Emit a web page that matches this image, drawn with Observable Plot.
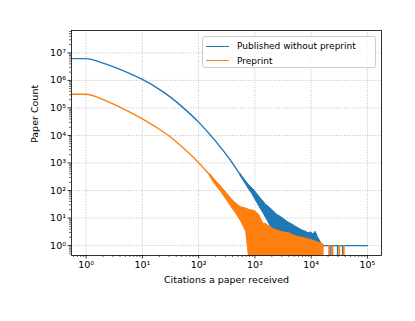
<!DOCTYPE html>
<html>
<head>
<meta charset="utf-8">
<script src="https://cdn.jsdelivr.net/npm/d3@7"></script>
<script src="https://cdn.jsdelivr.net/npm/@observablehq/plot@0.6"></script>
<style>
  body { margin: 0; background: #fff; }
  #wrap { position: relative; width: 415px; height: 321px; font-family: "DejaVu Sans", sans-serif; }
  #legend { position: absolute; left: 202px; top: 36px; width: 174px; height: 32px;
    border: 1px solid #cccccc; border-radius: 3px; background: rgba(255,255,255,0.8);
    font-size: 9px; color: #000; box-sizing: border-box; padding-top: 2px; }
  .row { display: flex; align-items: center; height: 14.5px; margin-left: 3px; }
  .swatch { width: 23px; height: 0; border-top: 1.4px solid; margin-right: 8px; }
</style>
</head>
<body>
<div id="wrap"><div id="legend"></div></div>
<script>
// ---- data ----
const seriesNames = ["Published without preprint", "Preprint"];
const seriesColors = ["#1f77b4", "#ff7f0e"];

// x = 0.55 stands for the citation count 0 (clipped to the left edge on a log axis)
const blueX = [0.55, 1, 2, 3, 5, 10, 20, 32, 50, 100, 200, 350, 560];
const blueY = [6.17e6, 6.17e6, 4.22e6, 3.16e6, 2.09e6, 1.08e6, 4.73e5, 2.43e5, 1.14e5, 3.05e4, 6.24e3, 1.45e3, 355];

// noisy tail: lower and upper envelope of the jagged counts (0 = zero count)
const blueBandX  = [560, 700, 800, 900, 1000, 1130, 1260, 1420, 1580, 1750, 1900, 2200, 2500, 2900, 3300, 3900, 4500, 5200, 6000, 7000, 8000, 9000, 10000, 11000, 12000, 13200, 16000];
const blueBandLo = [330, 160, 105, 75, 50, 33, 22, 15, 10, 7, 5, 3.8, 3, 2, 1.6, 1.2, 1, 1, 1, 1, 1, 1, 1, 1, 1, 1, 1];
const blueBandHi = [390, 210, 150, 120, 95, 70, 52, 40, 30, 26, 22, 17, 13, 11, 9, 7, 6, 5, 4.2, 3.5, 3.2, 2.8, 3, 2.5, 3.2, 2, 1];
const blueTailX = [16000, 100000];
const blueTailY = [1, 1];
const blueZeroX = [22400, 29500, 36300];

const orangeX = [0.55, 1, 2, 3, 5, 10, 20, 32, 50, 100, 160];
const orangeY = [3.16e5, 3.16e5, 2.02e5, 1.41e5, 8.5e4, 4.0e4, 1.68e4, 8.6e3, 3.94e3, 1.02e3, 355];
const orangeBandX  = [160, 200, 250, 316, 400, 480, 560, 700, 780, 860, 1000, 1100, 1200, 1400, 1600, 1800, 2100, 2500, 3200, 4000, 5000, 6300, 8000, 10000, 13000, 16600];
const orangeBandLo = [320, 160, 90, 45, 22, 13, 8, 3.2, 0, 0, 0, 0, 0, 0, 0, 0, 0, 0, 0, 0, 0, 0, 0, 0, 0, 0];
const orangeBandHi = [390, 230, 140, 80, 45, 32, 25, 22, 20, 19, 18, 15, 12.6, 6.3, 6, 5, 4, 3.5, 3, 2.8, 2.3, 2, 1.8, 1.6, 1.3, 1.1];
const orangeOneX = [20900, 24000, 31600, 38000];

const xMajor = [1, 10, 100, 1000, 10000, 100000];
const yMajor = [1, 10, 100, 1000, 1e4, 1e5, 1e6, 1e7];
const xTitle = "Citations a paper received";
const yTitle = "Paper Count";

// ---- chart ----
const xDomain = [0.55, 1.78e5];
const yDomain = [0.436, 6.5e7];
const supDigits = {"0":"⁰","1":"¹","2":"²","3":"³","4":"⁴","5":"⁵","6":"⁶","7":"⁷","8":"⁸","9":"⁹","-":"⁻"};
const fmt = d => "10" + String(Math.round(Math.log10(d))).split("").map(c => supDigits[c]).join("");
function minors(lo, hi) {
  const out = [];
  for (let e = Math.floor(Math.log10(lo)); e <= Math.ceil(Math.log10(hi)); e++)
    for (let m = 2; m <= 9; m++) { const v = m * Math.pow(10, e); if (v > lo && v < hi) out.push(v); }
  return out;
}
const zero = v => v === 0 ? yDomain[0] : v;
const pts = (xs, ys) => xs.map((x, i) => ({x, y: ys[i]}));
const band = (xs, lo, hi) => xs.map((x, i) => ({x, lo: zero(lo[i]), hi: hi[i]}));

const grid = {stroke: "#b0b0b0", strokeOpacity: 1, strokeWidth: 0.8, strokeDasharray: "1,1.6"};

const plot = Plot.plot({
  width: 415, height: 321,
  marginLeft: 71, marginRight: 34, marginTop: 30, marginBottom: 66,
  style: {fontFamily: "DejaVu Sans, sans-serif", fontSize: "9.5px", color: "#000", background: "transparent"},
  x: {type: "log", domain: xDomain, axis: null},
  y: {type: "log", domain: yDomain, axis: null},
  marks: [
    Plot.gridX(xMajor, grid),
    Plot.gridY(yMajor, grid),
    // blue series
    Plot.line(pts(blueX, blueY), {x: "x", y: "y", stroke: seriesColors[0], strokeWidth: 1.4, curve: "monotone-x"}),
    Plot.areaY(band(blueBandX, blueBandLo, blueBandHi), {x: "x", y1: "lo", y2: "hi", fill: seriesColors[0], stroke: seriesColors[0], strokeWidth: 1}),
    Plot.line(pts(blueTailX, blueTailY), {x: "x", y: "y", stroke: seriesColors[0], strokeWidth: 1.4}),
    Plot.ruleX(blueZeroX, {y1: yDomain[0], y2: 1, stroke: seriesColors[0], strokeWidth: 1.4}),
    // orange series
    Plot.line(pts(orangeX, orangeY), {x: "x", y: "y", stroke: seriesColors[1], strokeWidth: 1.4, curve: "monotone-x"}),
    Plot.areaY(band(orangeBandX, orangeBandLo, orangeBandHi), {x: "x", y1: "lo", y2: "hi", fill: seriesColors[1], stroke: seriesColors[1], strokeWidth: 1}),
    Plot.ruleX(orangeOneX, {y1: yDomain[0], y2: 1, stroke: seriesColors[1], strokeWidth: 1.8}),
    // frame and axes
    Plot.frame({stroke: "#000", strokeWidth: 0.8}),
    Plot.axisX(xMajor, {tickSize: 3.5, tickPadding: 2, tickFormat: fmt, strokeWidth: 0.8, label: null}),
    Plot.axisX(minors(xDomain[0], xDomain[1]), {tickSize: 2, tickFormat: () => "", strokeWidth: 0.6, label: null}),
    Plot.axisY(yMajor, {tickSize: 3.5, tickPadding: 2, tickFormat: fmt, strokeWidth: 0.8, label: null}),
    Plot.axisY(minors(yDomain[0], yDomain[1]), {tickSize: 2, tickFormat: () => "", strokeWidth: 0.6, label: null}),
    Plot.text([xTitle], {frameAnchor: "bottom", dy: 27, fontSize: 9.5, fill: "#000"}),
    Plot.text([yTitle], {frameAnchor: "left", dx: -37, rotate: -90, fontSize: 9.5, fill: "#000"})
  ]
});
document.getElementById("wrap").prepend(plot);

const legend = document.getElementById("legend");
seriesNames.forEach((name, i) => {
  const row = document.createElement("div");
  row.className = "row";
  row.innerHTML = `<span class="swatch" style="border-color:${seriesColors[i]}"></span><span>${name}</span>`;
  legend.appendChild(row);
});
</script>
</body>
</html>
